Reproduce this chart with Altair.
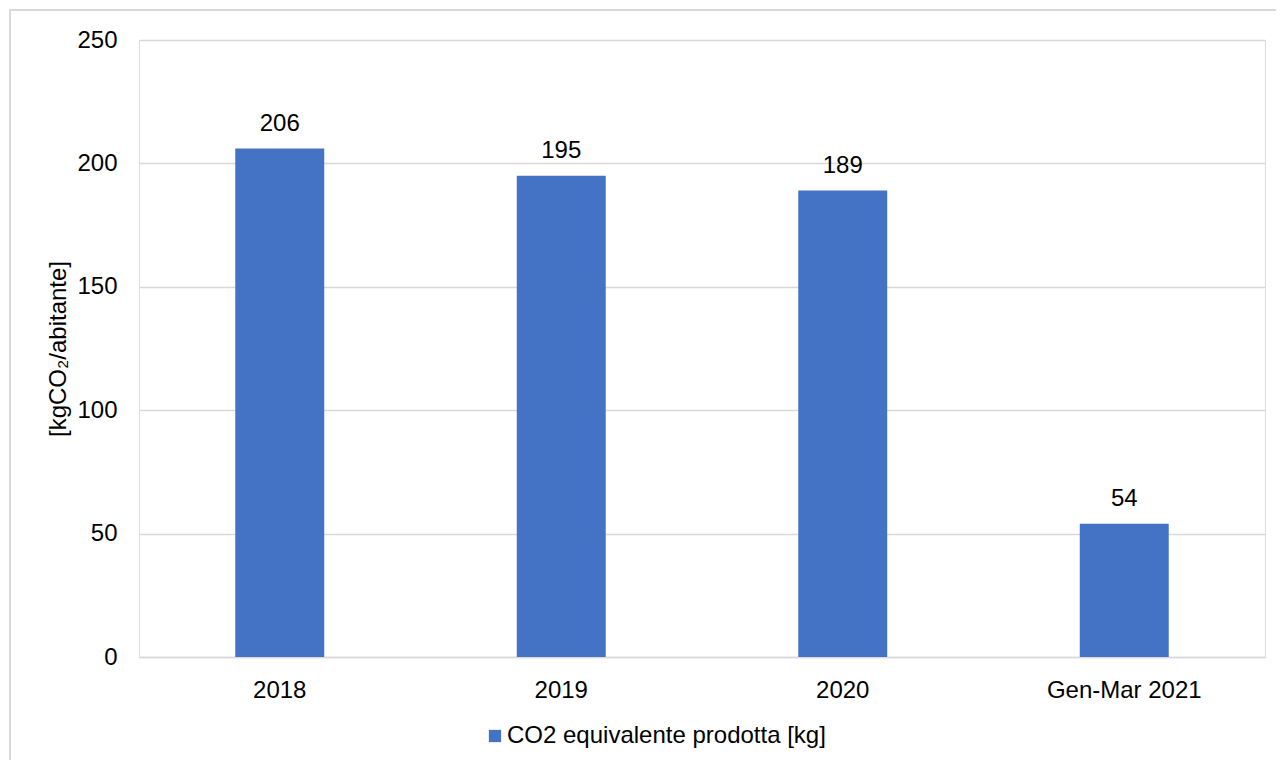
import altair as alt
import pandas as pd

categories = ["2018", "2019", "2020", "Gen-Mar 2021"]
values = [206, 195, 189, 54]
series_name = "CO2 equivalente prodotta [kg]"

df = pd.DataFrame({"cat": categories, "val": values, "serie": [series_name] * len(categories)})

FONT = "Liberation Sans"
W, H = 1126, 617

x = alt.X("cat:N", sort=categories, title=None,
          scale=alt.Scale(paddingInner=0.684, paddingOuter=0.342),
          axis=alt.Axis(labelAngle=0, ticks=False, labelPadding=21, labelFontSize=24,
                        labelFont=FONT, labelColor="#000000", domainColor="#d9d9d9",
                        domainWidth=1.5, grid=False))
y = alt.Y("val:Q", title="[kgCO₂/abitante]",
          scale=alt.Scale(domain=[0, 250], nice=False),
          axis=alt.Axis(values=[0, 50, 100, 150, 200, 250], ticks=False, domain=False,
                        labelPadding=22, labelFontSize=24, labelFont=FONT, labelColor="#000000",
                        gridColor="#d9d9d9", gridWidth=1.5,
                        titleFont=FONT, titleFontSize=24, titleFontWeight="normal",
                        titleColor="#000000", titlePadding=6))

bars = alt.Chart(df).mark_bar(color="#4472C4").encode(
    x=x, y=y,
    color=alt.Color("serie:N", scale=alt.Scale(range=["#4472C4"]), title=None,
                    legend=alt.Legend(orient="none", legendX=344, legendY=684,
                                      symbolType="square", symbolSize=150,
                                      symbolStrokeWidth=0, labelFont=FONT,
                                      labelFontSize=24, labelColor="#000000",
                                      labelLimit=600, labelOffset=0))
)

labels = alt.Chart(df).mark_text(baseline="bottom", dy=-13, fontSize=24, font=FONT,
                                 color="#000000").encode(
    x=alt.X("cat:N", sort=categories), y="val:Q", text=alt.Text("val:Q", format="d"))

border = alt.Chart(df).mark_rect(fill=None, stroke="#d9d9d9", strokeWidth=1.5).encode(
    x=alt.value(-129), x2=alt.value(W + 40), y=alt.value(-30), y2=alt.value(H + 150))

chart = alt.layer(border, bars, labels).properties(
    width=W, height=H,
    padding={"left": 131, "top": 32, "right": 11, "bottom": 103},
    autosize=alt.AutoSizeParams(type="none"),
).configure_view(stroke=None).configure(background="white")

chart.save("out.html", embed_options={"renderer": "svg", "actions": False})
